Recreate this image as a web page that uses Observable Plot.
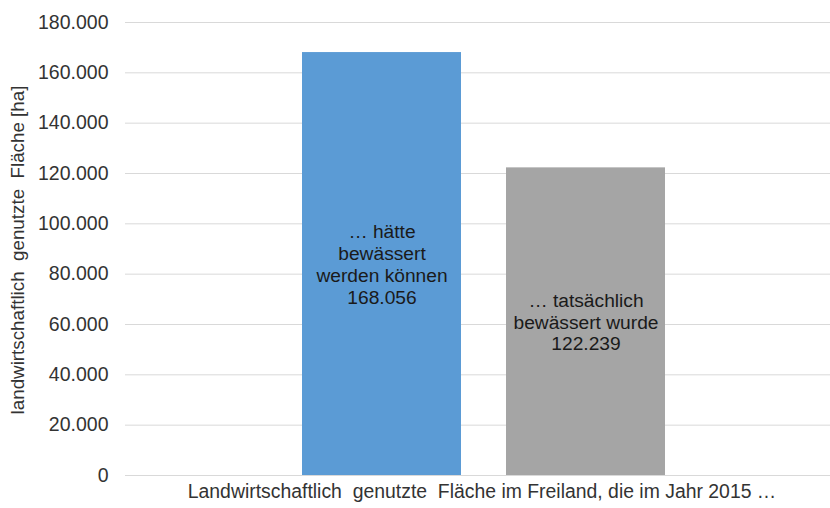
<!DOCTYPE html>
<html>
<head>
<meta charset="utf-8">
<script src="https://cdn.jsdelivr.net/npm/d3@7"></script>
<script src="https://cdn.jsdelivr.net/npm/@observablehq/plot@0.6"></script>
<style>
  html, body { margin: 0; padding: 0; background: #fff; }
  svg { font-family: "Liberation Sans", Arial, sans-serif; }
</style>
</head>
<body>
<div id="chart"></div>
<script>
const categories = ["… hätte bewässert werden können", "… tatsächlich bewässert wurde"];
const labelLines = ["… hätte\nbewässert\nwerden können", "… tatsächlich\nbewässert wurde"];
const values = [168056, 122239];
const barColors = ["#5B9BD5", "#A5A5A5"];
const yTicks = [0, 20000, 40000, 60000, 80000, 100000, 120000, 140000, 160000, 180000];
const yLabel = "landwirtschaftlich  genutzte  Fläche [ha]";
const xLabel = "Landwirtschaftlich  genutzte  Fläche im Freiland, die im Jahr 2015 …";

const de = d3.formatLocale({decimal: ",", thousands: ".", grouping: [3], currency: ["", " €"]});
const fmt = de.format(",d");

const data = categories.map((c, i) => ({
  cat: c,
  value: values[i],
  color: barColors[i],
  label: labelLines[i] + "\n" + fmt(values[i])
}));

const chart = Plot.plot({
  width: 830,
  height: 508,
  marginLeft: 125,
  marginRight: 0,
  marginTop: 22,
  marginBottom: 33,
  style: {fontFamily: "'Liberation Sans', Arial, sans-serif", fontSize: "19.5px", color: "#333", background: "#fff"},
  x: {domain: categories, range: [302, 666], paddingInner: 0.22, paddingOuter: 0, axis: null},
  y: {domain: [0, 180000], axis: null},
  marks: [
    Plot.ruleY(yTicks, {stroke: "#D9D9D9", strokeWidth: 1}),
    Plot.barY(data, {x: "cat", y: "value", fill: "color"}),
    Plot.text(data, {
      x: "cat",
      y: d => d.value / 2,
      text: "label",
      fill: "#1a1a1a",
      fontSize: 19.2,
      lineHeight: 1.13,
      lineAnchor: "middle"
    }),
    Plot.text(yTicks, {
      y: d => d,
      text: d => fmt(d),
      frameAnchor: "left",
      textAnchor: "end",
      dx: -17,
      fill: "#333",
      fontSize: 19.5
    }),
    Plot.text([yLabel], {
      frameAnchor: "left",
      textAnchor: "middle",
      rotate: -90,
      dx: -108,
      dy: 1,
      fill: "#333",
      fontSize: 18.8
    }),
    Plot.text([xLabel], {
      frameAnchor: "bottom",
      dy: 22,
      dx: 4,
      fill: "#333",
      fontSize: 19.4
    })
  ]
});
document.getElementById("chart").appendChild(chart);
</script>
</body>
</html>
